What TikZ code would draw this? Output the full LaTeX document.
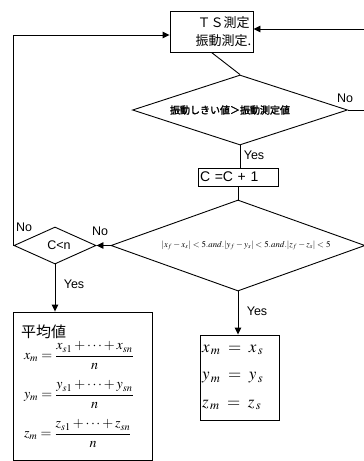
\documentclass[tikz,border=0pt]{standalone}
\usepackage{amsmath}
\usepackage[no-math]{fontspec}
\usepackage{mathptmx}
\setmainfont{Liberation Sans}
\newfontfamily\jp{Noto Sans CJK JP}
\newfontfamily\jpbold[FakeBold=2]{Noto Sans CJK JP}
\usetikzlibrary{shapes.geometric,arrows.meta,calc}

\tikzset{
  flow/.style={line width=0.9pt, draw=black},
  arr/.style={flow, -{Triangle[length=7pt,width=6.5pt]}},
  box/.style={rectangle, draw=black, line width=0.9pt, inner sep=0pt},
  decision/.style={diamond, draw=black, line width=0.9pt, inner sep=0pt},
  lbl/.style={inner sep=0pt, font=\fontsize{12.5}{14}\selectfont},
}

\begin{document}
\begin{tikzpicture}[x=1pt,y=-1pt]
\useasboundingbox (0,0) rectangle (364,461);

% measurement step
\node[box, minimum width=83pt, minimum height=41pt,
      label={[xshift=12pt, align=center, font=\jp\fontsize{13}{18}\selectfont]center:ＴＳ測定\\振動測定.}]
      (ts) at (211.5,31.5) {};

% vibration threshold test
\node[decision, minimum width=215pt, minimum height=70pt,
      label={[xshift=-10pt, font=\jpbold\fontsize{10}{12}\selectfont]center:振動しきい値＞振動測定値}]
      (d1) at (240,110) {};

% counter increment
\node[box, minimum width=80pt, minimum height=18pt, text width=76pt, align=left,
      font=\fontsize{14}{16}\selectfont] (inc) at (238,177) {C =C + 1};

% position tolerance test
\node[decision, minimum width=254pt, minimum height=91pt,
      label={[xshift=8pt, font=\fontsize{8.8}{10}\selectfont]center:%
        $|x_f-x_s|<5.\mathit{and}.|y_f-y_s|<5.\mathit{and}.|z_f-z_s|<5$}]
      (d2) at (238,245.5) {};

% sample count test
\node[decision, minimum width=82pt, minimum height=37pt,
      label={[xshift=4pt, font=\fontsize{12.5}{14}\selectfont]center:C<n}]
      (cn) at (55,245.5) {};

% averaged result
\node[box, minimum width=139pt, minimum height=148pt, text width=129pt, align=left,
      font=\fontsize{14}{39}\selectfont] (avg) at (82.5,386) {%
  \hspace*{3pt}{\jp\fontsize{15}{39}\selectfont 平均値}\\[-17pt]
  \hspace*{6pt}$x_m=\dfrac{x_{s1}+\cdots+x_{sn}}{n}$\\
  \hspace*{6pt}$y_m=\dfrac{y_{s1}+\cdots+y_{sn}}{n}$\\
  \hspace*{6pt}$z_m=\dfrac{z_{s1}+\cdots+z_{sn}}{n}$};

% single-sample result
\node[box, minimum width=79pt, minimum height=85pt, text width=75pt, align=left,
      font=\fontsize{17}{27.5}\selectfont] (res) at (239.5,377.5) {%
  $x_{\,m}\;=\;x_{\,s}$\\
  $y_{\,m}\;=\;y_{\,s}$\\
  $z_{\,m}\;=\;z_{\,s}$};

% connectors
\coordinate (tsL) at ($(ts.west)+(0,3.5)$);
\coordinate (tsR) at ($(ts.east)+(0,-2.5)$);
\coordinate (rgt) at (370,0);

\draw[flow] (ts.south) -- (d1.north);
\draw[flow] (d1.south) -- (d1.south |- inc.north);
\draw[flow] (d2.north |- inc.south) -- (d2.north);
\draw[arr] (d2.west) -- (cn.east);
\draw[arr] (cn.south) -- (cn.south |- avg.north);
\draw[arr] (d2.south) -- (d2.south |- res.north);
\draw[arr] (cn.west) -- (cn.west |- tsL) -- (tsL);
\draw[arr] (d1.east) -- (d1.east -| rgt) -- (rgt |- tsR) -- (tsR);

% branch labels
\node[lbl] at (254,155) {Yes};
\node[lbl] at (74,284) {Yes};
\node[lbl] at (257,311) {Yes};
\node[lbl] at (100,231) {No};
\node[lbl] at (24,227) {No};
\node[lbl] at (345,98) {No};
\end{tikzpicture}
\end{document}
